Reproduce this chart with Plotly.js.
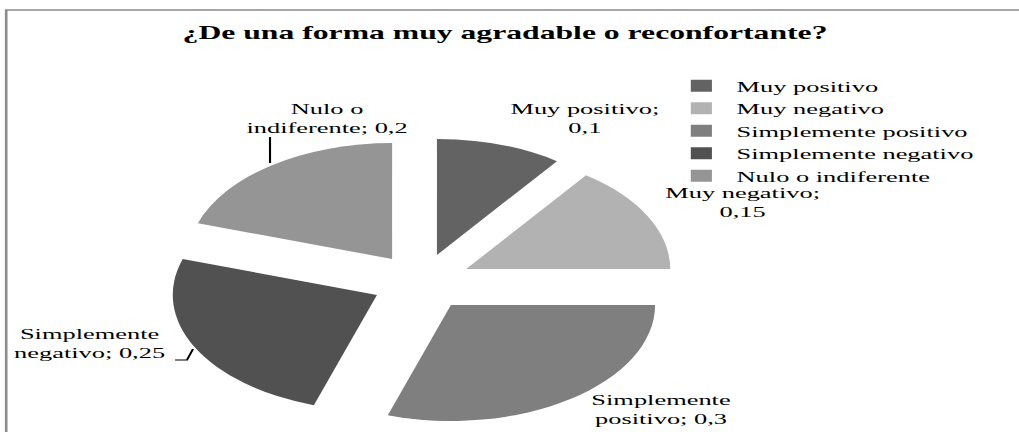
<!DOCTYPE html>
<html>
<head>
<meta charset="utf-8">
<script src="https://cdn.plot.ly/plotly-3.0.1.min.js"></script>
<style>
  html, body { margin: 0; padding: 0; background: #ffffff; }
  #wrap { width: 1019px; height: 432px; overflow: hidden; position: relative; }
  #chart { height: 432px; transform-origin: 0 0; }
</style>
</head>
<body>
<div id="wrap"><div id="chart"></div></div>
<script>
// ---- data ----
const categories = ['Muy positivo', 'Muy negativo', 'Simplemente positivo', 'Simplemente negativo', 'Nulo o indiferente'];
const values = [0.1, 0.15, 0.3, 0.25, 0.2];
const sliceColors = ['#636363', '#b2b2b2', '#7f7f7f', '#515151', '#959595'];
const titleText = '¿De una forma muy agradable o reconfortante?';

// ---- layout helpers (positions, not data) ----
const FULL_W = 1019, H = 432;
const S = 1.76;                      // horizontal stretch of the original picture
const W = Math.round(FULL_W / S);
const labelBreakAfter = [2, 2, 1, 1, 2];
const labelPx = [[586, 119.5], [742, 203], [660, 410], [90, 344], [327, 119.5]];
const serif = '"Liberation Serif", "Times New Roman", serif';

const chart = document.getElementById('chart');
chart.style.width = W + 'px';
chart.style.transform = 'scaleX(' + S + ')';

function fmt(v) { return String(v).replace('.', ','); }
function px2paper(x, y) { return [x / FULL_W, 1 - y / H]; }

const annotations = categories.map((c, i) => {
  const words = (c + '; ' + fmt(values[i])).split(' ');
  const txt = words.slice(0, labelBreakAfter[i]).join(' ') + '<br>' + words.slice(labelBreakAfter[i]).join(' ');
  const p = px2paper(labelPx[i][0], labelPx[i][1]);
  return {
    text: txt, x: p[0], y: p[1], xref: 'paper', yref: 'paper',
    xanchor: 'center', yanchor: 'middle', showarrow: false, align: 'center',
    font: { family: serif, size: 15, color: '#000000' }
  };
});

function pathPx(pts) {
  return pts.map((p, k) => (k ? 'L' : 'M') + (p[0] / FULL_W).toFixed(5) + ',' + (1 - p[1] / H).toFixed(5)).join(' ');
}

const shapes = [
  { type: 'rect', xref: 'paper', yref: 'paper', x0: 6.2 / FULL_W, x1: 1.05, y0: -0.05, y1: 1 - 10 / H,
    line: { color: '#8c8c8c', width: 1.5 }, fillcolor: 'rgba(0,0,0,0)' },
  { type: 'path', xref: 'paper', yref: 'paper', path: pathPx([[270, 137], [270, 163]]),
    line: { color: '#000000', width: 1.2 } },
  { type: 'path', xref: 'paper', yref: 'paper', path: pathPx([[175, 360], [187, 360], [193, 349]]),
    line: { color: '#000000', width: 1.2 } }
];

// pie geometry (unstretched px): centre (239.5, 282), radius 116, pull 0.245
const pull = 0.245;
const cx = 421.5 / S, cy = 282, half = 116 * (1 + pull);

const data = [{
  type: 'pie',
  labels: categories,
  values: values,
  sort: false,
  direction: 'clockwise',
  rotation: 0,
  pull: pull,
  textinfo: 'none',
  hoverinfo: 'label+value',
  marker: { colors: sliceColors, line: { width: 0 } },
  domain: { x: [(cx - half) / W, (cx + half) / W], y: [1 - (cy + half) / H, 1 - (cy - half) / H] }
}];

const layout = {
  width: W, height: H,
  margin: { l: 0, r: 0, t: 0, b: 0 },
  paper_bgcolor: '#ffffff',
  font: { family: serif, color: '#000000' },
  title: {
    text: titleText, x: 505 / FULL_W, xanchor: 'center', y: 1 - 33 / H, yanchor: 'middle',
    xref: 'paper', yref: 'paper',
    font: { family: serif, size: 18, weight: 'bold', color: '#000000' }
  },
  showlegend: true,
  legend: {
    x: 378.5 / W, xanchor: 'left', y: 1 - 131 / H, yanchor: 'middle',
    font: { family: serif, size: 15, color: '#000000' },
    bgcolor: 'rgba(0,0,0,0)'
  },
  annotations: annotations,
  shapes: shapes
};

Plotly.newPlot(chart, data, layout, { displayModeBar: false, staticPlot: true });
</script>
</body>
</html>
